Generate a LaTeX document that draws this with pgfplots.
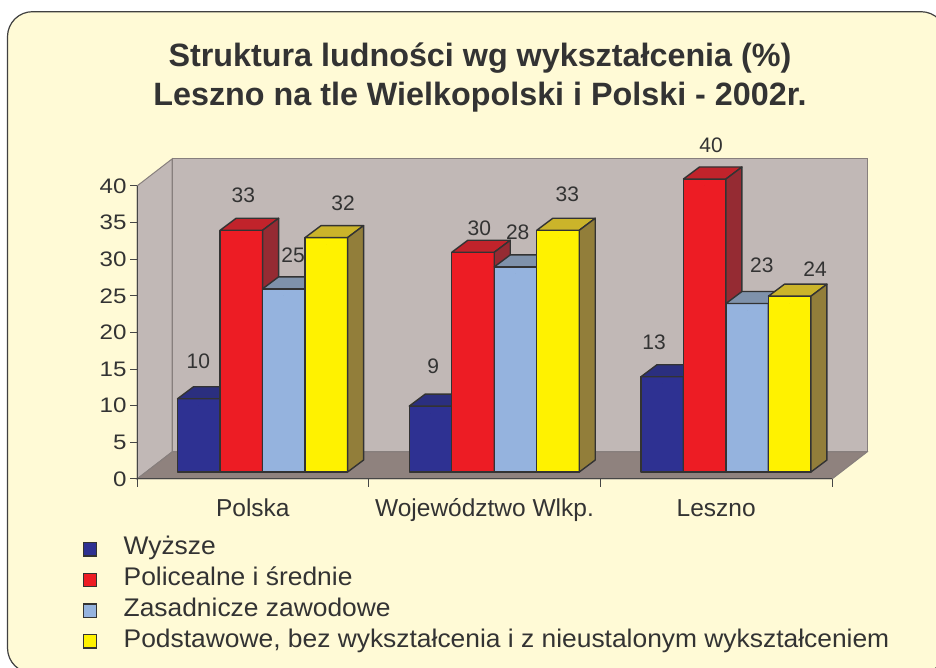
\documentclass[border=0pt]{standalone}
\usepackage{pgfplots}
\pgfplotsset{compat=1.18}
\usepackage{pgfplotstable}
\usepackage{fontspec}
\setmainfont{Liberation Sans}
\newfontfamily\axisfont[FakeStretch=1.15]{Liberation Sans}
\newfontfamily\legfont[FakeStretch=1.035]{Liberation Sans}

\definecolor{bg}{RGB}{255,250,214}
\definecolor{borderc}{RGB}{64,64,64}
\definecolor{wallc}{RGB}{193,184,182}
\definecolor{floorc}{RGB}{143,130,126}
\definecolor{walledge}{RGB}{135,127,125}
\definecolor{axisc}{RGB}{70,70,70}
\definecolor{txt}{RGB}{51,51,51}
\definecolor{edgec}{RGB}{51,51,51}
\definecolor{cBlue}{RGB}{46,49,146}
\definecolor{cBlueT}{RGB}{43,47,127}
\definecolor{cBlueS}{RGB}{35,38,110}
\definecolor{cRed}{RGB}{237,28,36}
\definecolor{cRedT}{RGB}{193,35,43}
\definecolor{cRedS}{RGB}{149,43,51}
\definecolor{cLb}{RGB}{149,179,222}
\definecolor{cLbT}{RGB}{127,146,171}
\definecolor{cLbS}{RGB}{111,127,148}
\definecolor{cYel}{RGB}{255,242,0}
\definecolor{cYelT}{RGB}{203,180,42}
\definecolor{cYelS}{RGB}{146,126,58}

% x: 0 Polska, 1 Wojewodztwo Wlkp., 2 Leszno; v: value; dx,dy: label offsets (pt)
\pgfplotstableread{
x v dx dy
0 10 -0.5 44
1 9 2.8 46.4
2 13 -8.1 41.5
}\tblue
\pgfplotstableread{
x v dx dy
0 33 2 42.3
1 30 6.3 31
2 40 6.4 41
}\tred
\pgfplotstableread{
x v dx dy
0 25 9.2 40.5
1 28 2.2 41.6
2 23 14.6 45.5
}\tlb
\pgfplotstableread{
x v dx dy
0 32 16.7 41.3
1 33 9.3 43.3
2 24 25.4 34
}\tyel

\newcommand\barbox[3]{%
  \pgfmathsetmacro\hb{7-7.325*\pgfplotspointmeta}%
  \pgfmathsetmacro\hc{19-7.325*\pgfplotspointmeta}%
  \filldraw[fill=#1,draw=edgec,line width=1.4pt,line join=round] (-21.25pt,\hb pt) rectangle (21.25pt,7pt);
  \filldraw[fill=#2,draw=edgec,line width=1.4pt,line join=round] (-21.25pt,7pt) -- (-5.25pt,19pt) -- (37.25pt,19pt) -- (21.25pt,7pt) -- cycle;
  \filldraw[fill=#3,draw=edgec,line width=1.4pt,line join=round] (21.25pt,7pt) -- (37.25pt,19pt) -- (37.25pt,\hc pt) -- (21.25pt,\hb pt) -- cycle;
}
\newcommand\legsq[1]{\filldraw[fill=#1,draw=edgec,line width=1.3pt] (0pt,-9.15pt) rectangle (13pt,4.15pt); \path[draw=none,fill=none] (0pt,0pt) -- (40pt,0pt);}

\pgfplotsset{
  box3d/.style n args={3}{scatter, only marks, mark=*, mark size=0pt,
    mark options={draw=none,fill=none},
    point meta=explicit symbolic,
    scatter/@pre marker code/.code={\barbox{#1}{#2}{#3}},
    scatter/@post marker code/.code={},
    legend image code/.code={\legsq{#1}}},
  vlabels/.style={forget plot, draw=none, mark=none, point meta=explicit symbolic,
    nodes near coords,
    visualization depends on={\thisrow{dx} \as \ldx},
    visualization depends on={\thisrow{dy} \as \ldy},
    every node near coord/.style={anchor=center, inner sep=0pt, xshift=\ldx pt, yshift=\ldy pt,
      font=\fontsize{21}{25}\selectfont, text=txt}},
}

\begin{document}
\begin{tikzpicture}
\fill[white] (0,0) rectangle (936pt,668pt);
\begin{scope}
\clip (0,0) rectangle (936pt,668pt);
\draw[fill=bg, draw=borderc, line width=1.2pt, rounded corners=25pt] (7.5pt,-5pt) rectangle (946pt,656.3pt);
\end{scope}

\begin{axis}[
  at={(137pt,189pt)}, anchor=south west,
  x=231.67pt, y=7.325pt,
  xmin=-0.5, xmax=2.5, ymin=0, ymax=40,
  clip=false, axis on top,
  axis x line*=bottom, axis y line*=left,
  axis line style={-, draw=axisc, line width=1pt},
  tick align=outside, major tick length=7pt,
  ytick={0,5,...,40},
  ytick style={draw=axisc, line width=1pt},
  xtick={0,1,2},
  xticklabels={Polska, Województwo Wlkp., Leszno},
  xtick style={draw=none},
  /pgf/number format/assume math mode=true,
  yticklabel style={font=\fontsize{21}{25}\axisfont, text=txt},
  xticklabel style={font=\fontsize{24.5}{28}\selectfont, text=txt, anchor=north, inner sep=0pt,
    text height=17.9pt, text depth=5pt, yshift=-12pt},
  title={Struktura ludności wg wykształcenia (\%)\\Leszno na tle Wielkopolski i Polski - 2002r.},
  title style={at={(axis description cs:0.4935,1.470)}, anchor=north, align=center, yshift=0pt,
    font=\bfseries\fontsize{32.3}{39.3}\selectfont, text=txt, inner sep=0pt},
  legend style={at={(axis description cs:-0.0777,-0.1969)}, anchor=north west,
    draw=none, fill=none, inner sep=0pt, outer sep=0pt, row sep=10.4pt, column sep=0pt,
    nodes={inner sep=0pt, text height=18.3pt, text depth=2pt,
      font=\fontsize{25.5}{30}\legfont, text=txt}},
  legend cell align=left,
]
% walls and floor
\filldraw[fill=wallc, draw=walledge, line width=1pt] (-0.5,0) -- (-0.5,40) -- (-0.3489,43.686) -- (-0.3489,3.686) -- cycle;
\filldraw[fill=wallc, draw=walledge, line width=1pt] (-0.3489,3.686) rectangle (2.6511,43.686);
\filldraw[fill=floorc, draw=walledge, line width=1pt] (-0.5,0) -- (2.5,0) -- (2.6511,3.686) -- (-0.3489,3.686) -- cycle;

\addplot[box3d={cBlue}{cBlueT}{cBlueS}] table[x expr=\thisrow{x}-0.2331, y=v, meta=v] {\tblue};
\addlegendentry{Wyższe}
\addplot[box3d={cRed}{cRedT}{cRedS}] table[x expr=\thisrow{x}-0.0496, y=v, meta=v] {\tred};
\addlegendentry{Policealne i średnie}
\addplot[box3d={cLb}{cLbT}{cLbS}] table[x expr=\thisrow{x}+0.1338, y=v, meta=v] {\tlb};
\addlegendentry{Zasadnicze zawodowe}
\addplot[box3d={cYel}{cYelT}{cYelS}] table[x expr=\thisrow{x}+0.3173, y=v, meta=v] {\tyel};
\addlegendentry{Podstawowe, bez wykształcenia i z nieustalonym wykształceniem}

\addplot[vlabels] table[x expr=\thisrow{x}-0.2331, y=v, meta=v] {\tblue};
\addplot[vlabels] table[x expr=\thisrow{x}-0.0496, y=v, meta=v] {\tred};
\addplot[vlabels] table[x expr=\thisrow{x}+0.1338, y=v, meta=v] {\tlb};
\addplot[vlabels] table[x expr=\thisrow{x}+0.3173, y=v, meta=v] {\tyel};

% category boundary ticks
\pgfplotsinvokeforeach{-0.5,0.5,1.5,2.5}{\draw[axisc, line width=1pt] (#1,0) -- ++(0pt,-8pt);}
\end{axis}
\pgfresetboundingbox
\path[use as bounding box] (0,0) rectangle (936pt,668pt);
\end{tikzpicture}
\end{document}
